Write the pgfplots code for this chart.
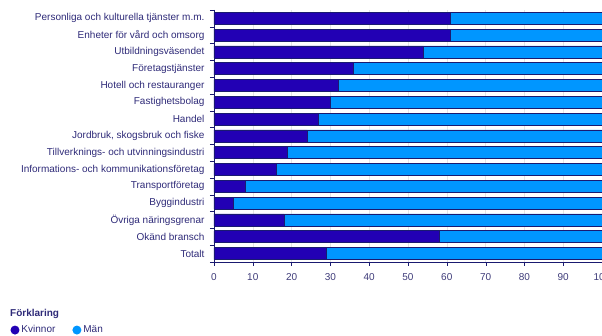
\documentclass[border=0pt]{standalone}
\usepackage{fontspec}
\setmainfont{Liberation Sans}
\usepackage{pgfplots}
\pgfplotsset{compat=1.18}
\definecolor{kv}{HTML}{2200B4}
\definecolor{man}{HTML}{0096FF}
\definecolor{edge}{HTML}{1A1A70}
\definecolor{txt}{HTML}{2E2A78}
\begin{document}
\begin{tikzpicture}
\begin{axis}[
  name=ax,
  scale only axis, width=388pt, height=252pt,
  xbar stacked, bar width=12pt,
  xmin=0, xmax=100, ymin=-0.5, ymax=14.5,
  y dir=reverse,
  ytick={0,...,14},
  yticklabels={Personliga och kulturella tjänster m.m., Enheter för vård och omsorg, Utbildningsväsendet, Företagstjänster, Hotell och restauranger, Fastighetsbolag, Handel, {Jordbruk, skogsbruk och fiske}, Tillverknings- och utvinningsindustri, Informations- och kommunikationsföretag, Transportföretag, Byggindustri, Övriga näringsgrenar, Okänd bransch, Totalt},
  minor ytick={-0.5,0.5,...,14.5},
  major tick length=4pt,
  minor tick length=4pt,
  xtick={0,10,...,100},
  tick align=outside,
  every major y tick/.style={draw=none},
  tick style={edge},
  xtick pos=bottom, ytick pos=left,
  axis x line*=bottom, axis y line*=left,
  axis line style={edge, -},
  xmajorgrids, major x grid style={gray!20},
  ticklabel style={font=\fontsize{10}{12}\selectfont, text=txt},
  xticklabel style={text=txt!80!gray, yshift=-4pt},
  yticklabel style={xshift=-2pt},
  /pgf/number format/assume math mode=true,
  clip=false,
  legend columns=2,
  legend style={draw=none, fill=none, at={(-0.525,-0.244)}, anchor=north west,
    font=\fontsize{10}{12}\selectfont, text=txt, inner sep=0pt,
    /tikz/every even column/.append style={column sep=15pt}},
  legend image code/.code={\fill[#1, draw=none] (0.16cm,0cm) circle (4.5pt);},
]
\addplot+[draw=edge, fill=kv, line width=0.6pt] coordinates {
(61,0) (61,1) (54,2) (36,3) (32,4) (30,5) (27,6) (24,7) (19,8) (16,9) (8,10) (5,11) (18,12) (58,13) (29,14)};
\addplot+[draw=edge, fill=man, line width=0.6pt] coordinates {
(39,0) (39,1) (46,2) (64,3) (68,4) (70,5) (73,6) (76,7) (81,8) (84,9) (92,10) (95,11) (82,12) (42,13) (71,14)};
\legend{Kvinnor, Män}
\end{axis}
\node[anchor=base west, font=\bfseries\fontsize{10}{12}\selectfont, text=txt, inner sep=0pt] at ([xshift=-204pt, yshift=-55pt]ax.south west) {Förklaring};
\pgfresetboundingbox
\path[use as bounding box] ([xshift=-214pt,yshift=-74pt]ax.south west) rectangle ([yshift=10pt]ax.north east);
\end{tikzpicture}
\end{document}
